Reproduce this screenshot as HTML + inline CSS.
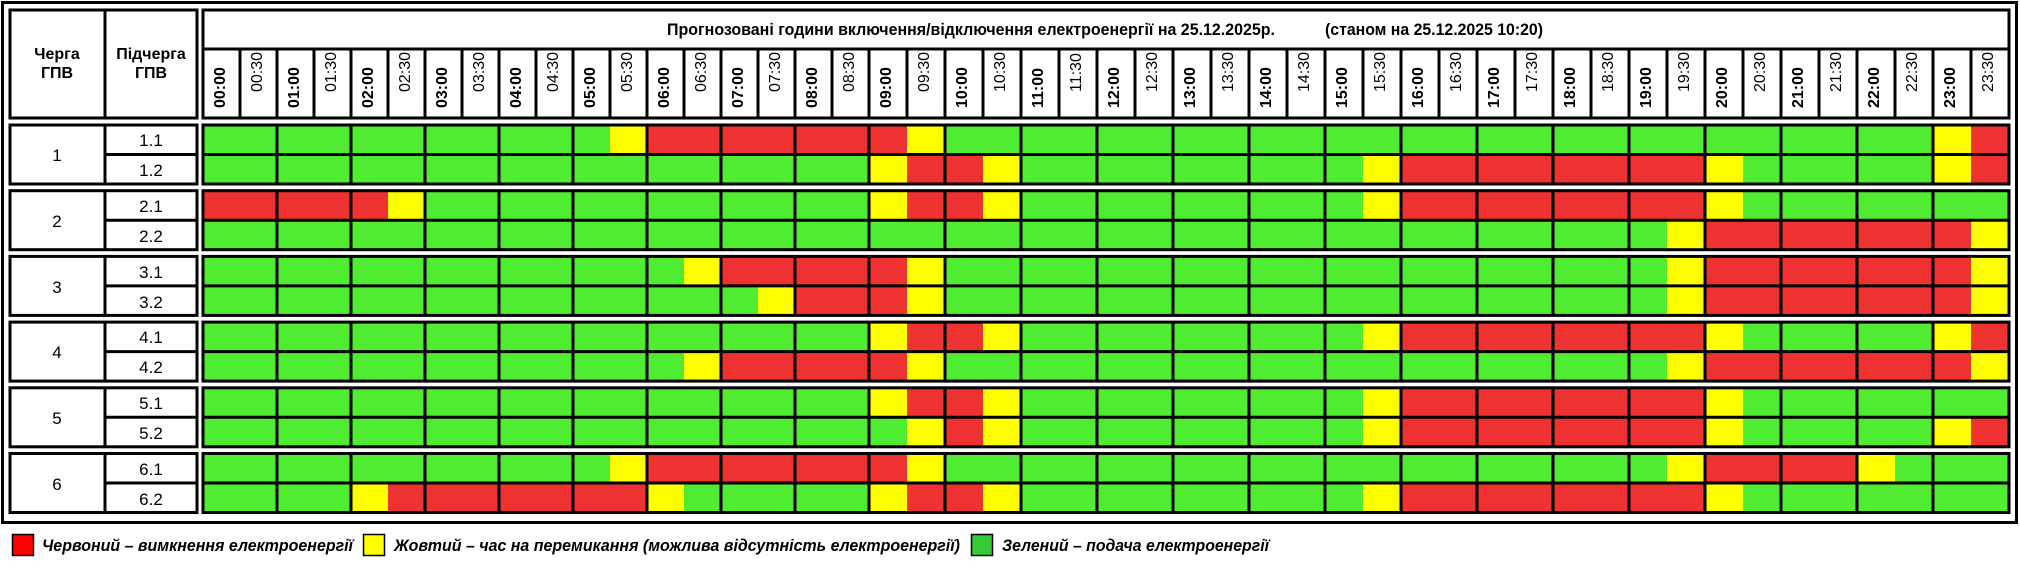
<!DOCTYPE html>
<html><head><meta charset="utf-8"><style>
html,body{margin:0;padding:0;background:#fff;width:2020px;height:570px;overflow:hidden}
svg{display:block}
text{font-family:"Liberation Sans",sans-serif;fill:#000}
.h{font-weight:bold;font-size:16px}
.m{font-size:16px}
</style></head><body>
<svg id="s" width="2020" height="570" xmlns="http://www.w3.org/2000/svg">
<rect x="2.5" y="2.5" width="2014" height="520" fill="#fff" stroke="#000" stroke-width="3"/>
<g id="grid"></g>
<text x="57" y="59" text-anchor="middle" font-weight="bold" font-size="16">Черга</text>
<text x="57" y="78" text-anchor="middle" font-weight="bold" font-size="16">ГПВ</text>
<text x="151" y="59" text-anchor="middle" font-weight="bold" font-size="16">Підчерга</text>
<text x="151" y="78" text-anchor="middle" font-weight="bold" font-size="16">ГПВ</text>
<text x="667" y="35" font-weight="bold" font-size="17" textLength="608" lengthAdjust="spacingAndGlyphs">Прогнозовані години включення/відключення електроенергії на 25.12.2025р.</text>
<text x="1325" y="35" font-weight="bold" font-size="17" textLength="218" lengthAdjust="spacingAndGlyphs">(станом на 25.12.2025 10:20)</text>
<g id="labels">
<text class="h">00:00</text><text class="m">00:30</text><text class="h">01:00</text><text class="m">01:30</text>
<text class="h">02:00</text><text class="m">02:30</text><text class="h">03:00</text><text class="m">03:30</text>
<text class="h">04:00</text><text class="m">04:30</text><text class="h">05:00</text><text class="m">05:30</text>
<text class="h">06:00</text><text class="m">06:30</text><text class="h">07:00</text><text class="m">07:30</text>
<text class="h">08:00</text><text class="m">08:30</text><text class="h">09:00</text><text class="m">09:30</text>
<text class="h">10:00</text><text class="m">10:30</text><text class="h">11:00</text><text class="m">11:30</text>
<text class="h">12:00</text><text class="m">12:30</text><text class="h">13:00</text><text class="m">13:30</text>
<text class="h">14:00</text><text class="m">14:30</text><text class="h">15:00</text><text class="m">15:30</text>
<text class="h">16:00</text><text class="m">16:30</text><text class="h">17:00</text><text class="m">17:30</text>
<text class="h">18:00</text><text class="m">18:30</text><text class="h">19:00</text><text class="m">19:30</text>
<text class="h">20:00</text><text class="m">20:30</text><text class="h">21:00</text><text class="m">21:30</text>
<text class="h">22:00</text><text class="m">22:30</text><text class="h">23:00</text><text class="m">23:30</text>
</g>
<g id="rowlabels" font-size="17">
<text x="57" y="161" text-anchor="middle">1</text><text x="151" y="146" text-anchor="middle">1.1</text><text x="151" y="176" text-anchor="middle">1.2</text>
<text x="57" y="227" text-anchor="middle">2</text><text x="151" y="212" text-anchor="middle">2.1</text><text x="151" y="242" text-anchor="middle">2.2</text>
<text x="57" y="293" text-anchor="middle">3</text><text x="151" y="278" text-anchor="middle">3.1</text><text x="151" y="308" text-anchor="middle">3.2</text>
<text x="57" y="358" text-anchor="middle">4</text><text x="151" y="343" text-anchor="middle">4.1</text><text x="151" y="373" text-anchor="middle">4.2</text>
<text x="57" y="424" text-anchor="middle">5</text><text x="151" y="409" text-anchor="middle">5.1</text><text x="151" y="439" text-anchor="middle">5.2</text>
<text x="57" y="490" text-anchor="middle">6</text><text x="151" y="475" text-anchor="middle">6.1</text><text x="151" y="505" text-anchor="middle">6.2</text>
</g>
<rect x="12.5" y="534.5" width="21" height="21" fill="#ff0000" stroke="#000" stroke-width="1.5"/>
<text x="42" y="551" font-size="17" font-weight="bold" font-style="italic" textLength="311" lengthAdjust="spacingAndGlyphs">Червоний – вимкнення електроенергії</text>
<rect x="363.5" y="534.5" width="21" height="21" fill="#ffff00" stroke="#000" stroke-width="1.5"/>
<text x="394" y="551" font-size="17" font-weight="bold" font-style="italic" textLength="566" lengthAdjust="spacingAndGlyphs">Жовтий – час на перемикання (можлива відсутність електроенергії)</text>
<rect x="971.5" y="534.5" width="21" height="21" fill="#33cc33" stroke="#000" stroke-width="1.5"/>
<text x="1002" y="551" font-size="17" font-weight="bold" font-style="italic" textLength="267" lengthAdjust="spacingAndGlyphs">Зелений – подача електроенергії</text>
</svg>
<script>
(function(){
var NS="http://www.w3.org/2000/svg",g=document.getElementById("grid");
function el(t,a){var e=document.createElementNS(NS,t);for(var k in a)e.setAttribute(k,a[k]);g.appendChild(e);return e;}
var X0=203,X1=2009;
function cx(i){return i<=18?X0+i*37:X0+666+(i-18)*38;}
function cw(i){return i<18?37:38;}
var C={g:"#4fec32",r:"#ee3232",y:"#ffff00"};
function row(spec){var a=[];spec.split(",").forEach(function(p){var c=p[0],n=+p.slice(1);for(var i=0;i<n;i++)a.push(c);});return a;}
var R=[
["g11,y1,r7,y1,g26,y1,r1","g18,y1,r2,y1,g9,y1,r8,y1,g5,y1,r1"],
["r5,y1,g12,y1,r2,y1,g9,y1,r8,y1,g7","g39,y1,r7,y1"],
["g13,y1,r5,y1,g19,y1,r7,y1","g15,y1,r3,y1,g19,y1,r7,y1"],
["g18,y1,r2,y1,g9,y1,r8,y1,g5,y1,r1","g13,y1,r5,y1,g19,y1,r7,y1"],
["g18,y1,r2,y1,g9,y1,r8,y1,g7","g19,y1,r1,y1,g9,y1,r8,y1,g5,y1,r1"],
["g11,y1,r7,y1,g19,y1,r4,y1,g3","g4,y1,r7,y1,g5,y1,r2,y1,g9,y1,r8,y1,g7"]
];
el("rect",{x:10,y:10,width:187,height:108,fill:"#fff",stroke:"#000","stroke-width":3});
el("line",{x1:105,y1:10,x2:105,y2:118,stroke:"#000","stroke-width":3});
el("rect",{x:X0,y:10,width:X1-X0,height:108,fill:"#fff",stroke:"#000","stroke-width":3});
el("line",{x1:X0,y1:49,x2:X1,y2:49,stroke:"#000","stroke-width":3});
for(var i=1;i<48;i++)el("line",{x1:cx(i),y1:49,x2:cx(i),y2:118,stroke:"#000","stroke-width":3});
var labs=document.getElementById("labels").children;
for(var i=0;i<labs.length;i++){var x=cx(i)+22,y=(i%2)?92:108;labs[i].setAttribute("transform","translate("+x+","+y+") rotate(-90)");}
for(var k=0;k<6;k++){
 var top=125+k*65.7,h=59,mid=top+h/2;
 el("rect",{x:10,y:top,width:187,height:h,fill:"#fff",stroke:"#000","stroke-width":3});
 el("line",{x1:105,y1:top,x2:105,y2:top+h,stroke:"#000","stroke-width":3});
 el("line",{x1:105,y1:mid,x2:197,y2:mid,stroke:"#000","stroke-width":3});
 for(var r=0;r<2;r++){var a=row(R[k][r]);var yy=r?mid:top;
  for(var i=0;i<48;i++)el("rect",{x:cx(i),y:yy,width:cw(i)+0.6,height:h/2,fill:C[a[i]]});}
 el("rect",{x:X0,y:top,width:X1-X0,height:h,fill:"none",stroke:"#000","stroke-width":3});
 el("line",{x1:X0,y1:mid,x2:X1,y2:mid,stroke:"#000","stroke-width":3});
 for(var i=2;i<48;i+=2)el("line",{x1:cx(i),y1:top,x2:cx(i),y2:top+h,stroke:"#000","stroke-width":3});
}
})();
</script>
</body></html>
